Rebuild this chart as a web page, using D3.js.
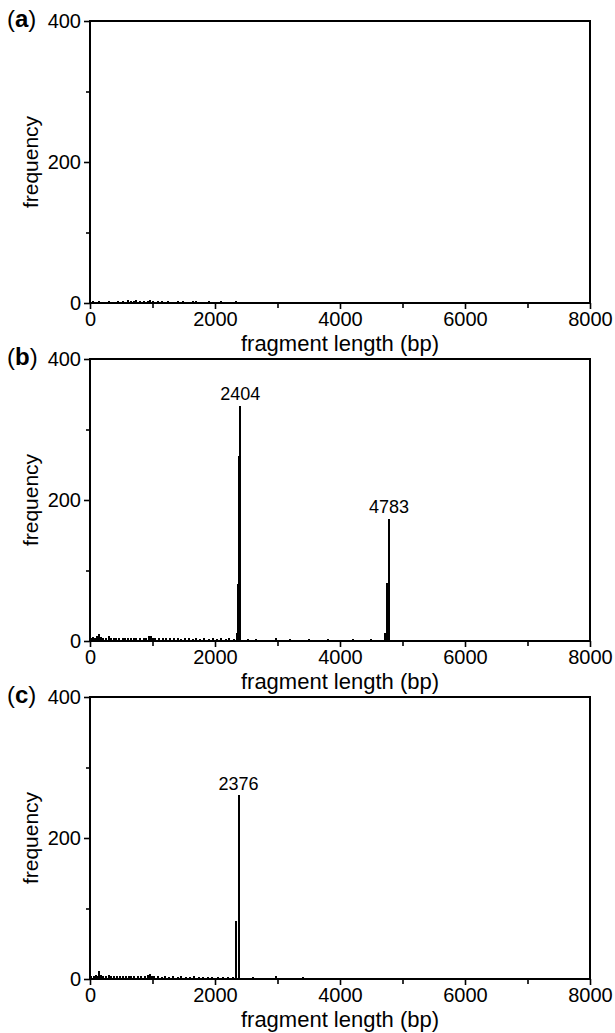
<!DOCTYPE html>
<html>
<head>
<meta charset="utf-8">
<script src="https://cdn.jsdelivr.net/npm/d3@7"></script>
<style>
  body { margin: 0; background: #fff; }
  svg { font-family: "Liberation Sans", Arial, sans-serif; }
</style>
</head>
<body>
<svg id="chart" width="615" height="1033"></svg>
<script>
// fragment length histograms, [bp, count]
var panelNames = ["a", "b", "c"];

var noiseA = [[40,2],[90,1],[150,2],[230,1],[300,2],[380,1],[450,2],[520,2],[600,3],[650,2],[700,2],[740,3],
              [800,2],[860,2],[920,2],[960,3],[1000,2],[1080,2],[1150,2],[1240,2],[1300,1],[1400,2],[1480,2],
              [1560,1],[1650,2],[1700,2],[1820,1],[1900,2],[2000,1],[2100,2],[2220,1],[2330,2]];

var noiseB = [[20,4],[50,5],[80,4],[110,6],[140,9],[170,5],[200,4],[250,3],[300,6],[340,3],[380,4],[420,3],
              [470,4],[520,3],[560,4],[600,3],[650,4],[700,3],[740,3],[800,4],[860,3],[900,4],[940,7],[970,6],
              [1000,4],[1040,3],[1100,3],[1160,4],[1220,3],[1280,3],[1340,3],[1400,3],[1460,2],[1520,3],[1580,3],
              [1640,2],[1700,3],[1760,2],[1820,3],[1900,2],[1960,3],[2030,2],[2100,3],[2170,2],[2230,3],[2300,2],
              [2520,2],[2650,2],[2980,3],[3200,2],[3500,2],[3800,2],[4200,2],[4500,2]];

var peaksB = [[2356,10],[2372,80],[2388,262],[2404,333],
              [4720,10],[4752,82],[4783,173]];
var peakLabelsB = [[2404,333],[4783,173]];

var noiseC = [[20,4],[60,4],[90,5],[120,4],[150,10],[180,5],[210,4],[260,4],[300,5],[340,3],[390,4],[430,3],
              [480,3],[520,4],[570,3],[620,3],[660,3],[710,3],[760,3],[820,3],[880,3],[930,5],[960,6],[990,4],
              [1030,3],[1090,3],[1150,2],[1200,3],[1270,2],[1330,3],[1400,2],[1450,3],[1530,2],[1600,2],[1660,3],
              [1740,2],[1800,2],[1880,2],[1950,2],[2040,2],[2120,2],[2200,2],[2280,2],[2600,2],[2980,3],[3400,2]];

var peaksC = [[2340,81],[2376,260]];
var peakLabelsC = [[2376,260]];

var xMajor = [0, 2000, 4000, 6000, 8000],
    xMinor = [1000, 3000, 5000, 7000],
    yMajor = [0, 200, 400],
    yMinor = [100, 300];

var panelData = [
    { bars: noiseA, labels: [] },
    { bars: noiseB.concat(peaksB), labels: peakLabelsB },
    { bars: noiseC.concat(peaksC), labels: peakLabelsC }
];

var svg = d3.select("#chart");

var left = 90, right = 590, panelH = 282,
    tops = [21, 359, 697];

var x = d3.scaleLinear().domain([0, 8000]).range([left, right]);

panelData.forEach(function(p, i) {
    var top = tops[i], bottom = top + panelH;
    var y = d3.scaleLinear().domain([0, 400]).range([bottom, top]);

    var g = svg.append("g");

    g.selectAll("rect.bar")
     .data(p.bars)
     .enter()
     .append("rect")
     .attr("class", "bar")
     .attr("x", d => Math.round(x(d[0])) - 1)
     .attr("width", 2)
     .attr("y", d => Math.floor(y(d[1])))
     .attr("height", d => bottom - Math.floor(y(d[1])))
     .attr("fill", "#000")
     .attr("shape-rendering", "crispEdges");

    g.selectAll("text.peak")
     .data(p.labels)
     .enter()
     .append("text")
     .attr("class", "peak")
     .attr("x", d => x(d[0]))
     .attr("y", d => y(d[1]) - 6)
     .attr("text-anchor", "middle")
     .style("font-size", "18px")
     .text(d => d[0]);

    // axes
    var yAx = g.append("g").attr("transform", "translate(" + left + ",0)")
               .call(d3.axisLeft(y).tickValues(yMajor).tickSize(6).tickPadding(3));
    var yAxMinor = g.append("g").attr("transform", "translate(" + left + ",0)")
               .call(d3.axisLeft(y).tickValues(yMinor).tickSize(4).tickFormat(""));
    var xAx = g.append("g").attr("transform", "translate(0," + bottom + ")")
               .call(d3.axisBottom(x).tickValues(xMajor).tickSize(6).tickPadding(3).tickFormat(d3.format("d")));
    var xAxMinor = g.append("g").attr("transform", "translate(0," + bottom + ")")
               .call(d3.axisBottom(x).tickValues(xMinor).tickSize(5).tickFormat(""));

    [yAx, yAxMinor, xAx, xAxMinor].forEach(function(a) {
        a.select(".domain").remove();
        a.selectAll("line").attr("stroke", "#000").attr("stroke-width", 1.6);
        a.selectAll("text").style("font-size", "20px").attr("fill", "#000")
         .style("font-family", "'Liberation Sans', Arial, sans-serif");
    });

    g.append("rect")
     .attr("x", left)
     .attr("y", top)
     .attr("width", right - left)
     .attr("height", panelH)
     .attr("fill", "none")
     .attr("stroke", "#000")
     .attr("stroke-width", 2);

    g.append("text")
     .attr("transform", "translate(38," + (top + panelH / 2) + ") rotate(-90)")
     .attr("text-anchor", "middle")
     .style("font-size", "21px")
     .text("frequency");

    g.append("text")
     .attr("x", (left + right) / 2)
     .attr("y", bottom + 48)
     .attr("text-anchor", "middle")
     .style("font-size", "22px")
     .text("fragment length (bp)");

    var lab = g.append("text")
               .attr("x", 7)
               .attr("y", top + 6)
               .style("font-size", "24px");
    lab.append("tspan").text("(");
    lab.append("tspan").style("font-weight", "bold").text(panelNames[i]);
    lab.append("tspan").text(")");
});
</script>
</body>
</html>
